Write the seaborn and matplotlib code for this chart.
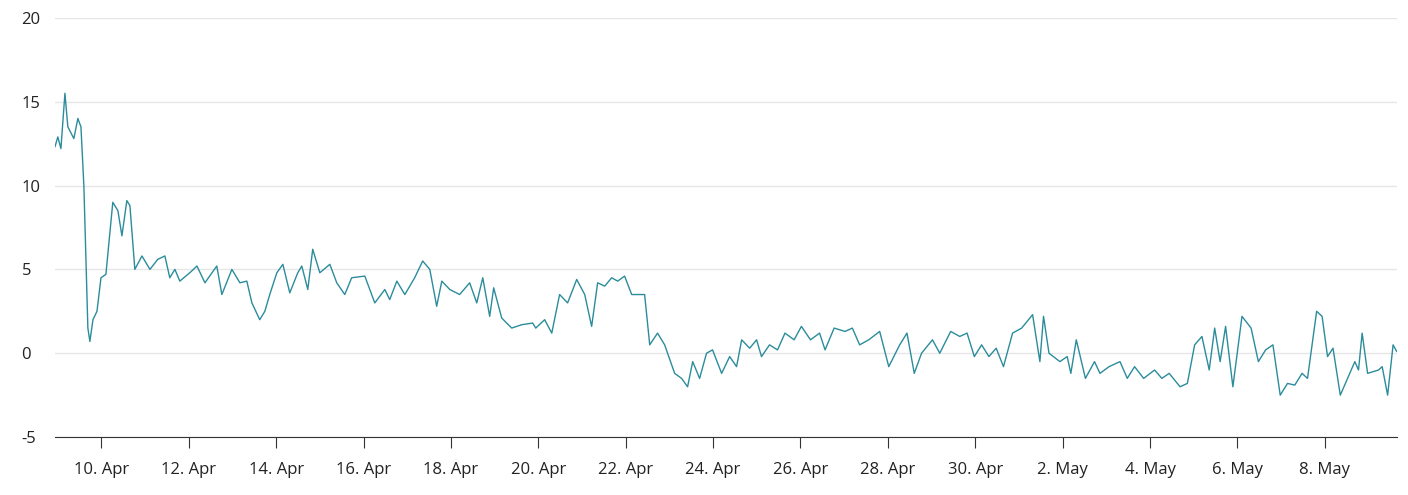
import numpy as np
import pandas as pd
import seaborn as sns
import matplotlib.pyplot as plt
import matplotlib.dates as mdates

start = pd.Timestamp('2021-04-08 22:30')

hours = [0, 1.6, 3.3, 5.5, 7.1, 10.4, 12.6, 14.3, 15.9, 18.1, 19.2, 20.9, 23.1, 25.3, 28, 31.8, 34.6, 36.8,
         39.5, 41.2, 43.9, 47.8, 52.2, 56.5, 60.4, 63.1, 65.9, 68.6, 74.1, 78, 82.4, 88.9, 91.7, 97.2, 101.6,
         105.4, 108.2, 112.5, 115.3, 118, 121.9, 125.2, 129, 133.4, 135.6, 138.9, 141.6, 145.5, 151, 154.8,
         159.2, 163, 170.2, 175.7, 181.2, 183.9, 187.8, 192.2, 197.6, 202, 205.9, 209.7, 212.5, 216.9, 222.3,
         227.8, 231.7, 235, 238.8, 241, 245.4, 250.9, 256.4, 262.4, 264.1, 269, 272.9, 277.2, 281.6, 286.6,
         291, 294.8, 298.1, 302, 305.8, 309.1, 312.9, 316.8, 323.9, 326.7, 331, 334.9, 340.4, 344.2, 347.5,
         350.3, 354.1, 357.9, 361.2, 366.2, 370.6, 374.4, 377.2, 381.6, 385.4, 388.1, 392.5, 396.9, 401, 406,
         410, 415, 420, 423, 428, 434, 438, 442, 447, 453, 458, 464, 468, 472, 476, 482, 486, 492, 497, 501,
         505, 509, 513, 517, 521, 526, 531, 537, 541, 543, 546, 552, 556, 558, 561, 566, 571, 574, 579, 585,
         589, 593, 598, 604, 608, 612, 618, 622, 626, 630, 634, 637, 640, 643, 647, 652, 657, 661, 665, 669,
         673, 677, 681, 685, 688, 693, 696, 699, 702, 706, 710, 714, 716, 718, 721, 727, 729, 732, 735, 737]

values = [12.3, 12.9, 12.2, 15.5, 13.5, 12.8, 14, 13.5, 10, 1.5, 0.7, 2, 2.5, 4.5, 4.7, 9, 8.5, 7,
          9.1, 8.8, 5, 5.8, 5, 5.6, 5.8, 4.5, 5, 4.3, 4.8, 5.2, 4.2, 5.2, 3.5, 5, 4.2,
          4.3, 3, 2, 2.5, 3.5, 4.8, 5.3, 3.6, 4.8, 5.2, 3.8, 6.2, 4.8, 5.3, 4.2,
          3.5, 4.5, 4.6, 3, 3.8, 3.2, 4.3, 3.5, 4.5, 5.5, 5, 2.8, 4.3, 3.8, 3.5,
          4.2, 3, 4.5, 2.2, 3.9, 2.1, 1.5, 1.7, 1.8, 1.5, 2, 1.2, 3.5, 3, 4.4,
          3.5, 1.6, 4.2, 4, 4.5, 4.3, 4.6, 3.5, 3.5, 0.5, 1.2, 0.5, -1.2, -1.5, -2,
          -0.5, -1.5, 0, 0.2, -1.2, -0.2, -0.8, 0.8, 0.3, 0.8, -0.2, 0.5, 0.2, 1.2, 0.8,
          1.6, 0.8, 1.2, 0.2, 1.5, 1.3, 1.5, 0.5, 0.8, 1.3, -0.8, 0.5, 1.2, -1.2, 0, 0.8, 0, 1.3, 1, 1.2,
          -0.2, 0.5, -0.2, 0.3, -0.8, 1.2, 1.5, 2.3, -0.5, 2.2, 0, -0.5, -0.2, -1.2, 0.8, -1.5, -0.5, -1.2, -0.8, -0.5,
          -1.5, -0.8, -1.5, -1, -1.5, -1.2, -2, -1.8, 0.5, 1, -1, 1.5, -0.5, 1.6, -2, 2.2, 1.5, -0.5, 0.2, 0.5,
          -2.5, -1.8, -1.9, -1.2, -1.5, 2.5, 2.2, -0.2, 0.3, -2.5, -1.5, -0.5, -1, 1.2, -1.2, -1, -0.8, -2.5, 0.5, 0.1]

y_ticks = [-5, 0, 5, 10, 15, 20]

df = pd.DataFrame({'time': start + pd.to_timedelta(hours, unit='h'), 'value': values})

sns.set_style('white')
plt.rcParams['font.family'] = ['Open Sans', 'DejaVu Sans']
plt.rcParams['axes.unicode_minus'] = False

fig = plt.figure(figsize=(14.08, 4.95), dpi=100)
ax = fig.add_axes([0.039, 0.117, 0.953, 0.847])
sns.lineplot(data=df, x='time', y='value', ax=ax, color='#2b8c9b', linewidth=1)

ax.set_ylim(-5, 20)
ax.set_yticks(y_ticks)
ax.set_xlim(df['time'].iloc[0], df['time'].iloc[-1])
ax.xaxis.set_major_locator(mdates.DayLocator(bymonthday=[10, 12, 14, 16, 18, 20, 22, 24, 26, 28, 30, 2, 4, 6, 8]))
ax.xaxis.set_major_formatter(mdates.DateFormatter('%-d. %b'))
ax.grid(axis='y', color='#e6e6e6', linewidth=1)
ax.grid(axis='x', visible=False)
for s in ['top', 'right', 'left']:
    ax.spines[s].set_visible(False)
ax.spines['bottom'].set_color('#333333')
ax.tick_params(axis='x', length=8, color='#333333', labelsize=12, labelcolor='#222222', pad=10, bottom=True)
ax.tick_params(axis='y', length=0, labelsize=12, labelcolor='#222222', pad=24)
for lbl in ax.get_yticklabels():
    lbl.set_horizontalalignment('left')
ax.set_xlabel('')
ax.set_ylabel('')

plt.savefig('out.png', dpi=100)
